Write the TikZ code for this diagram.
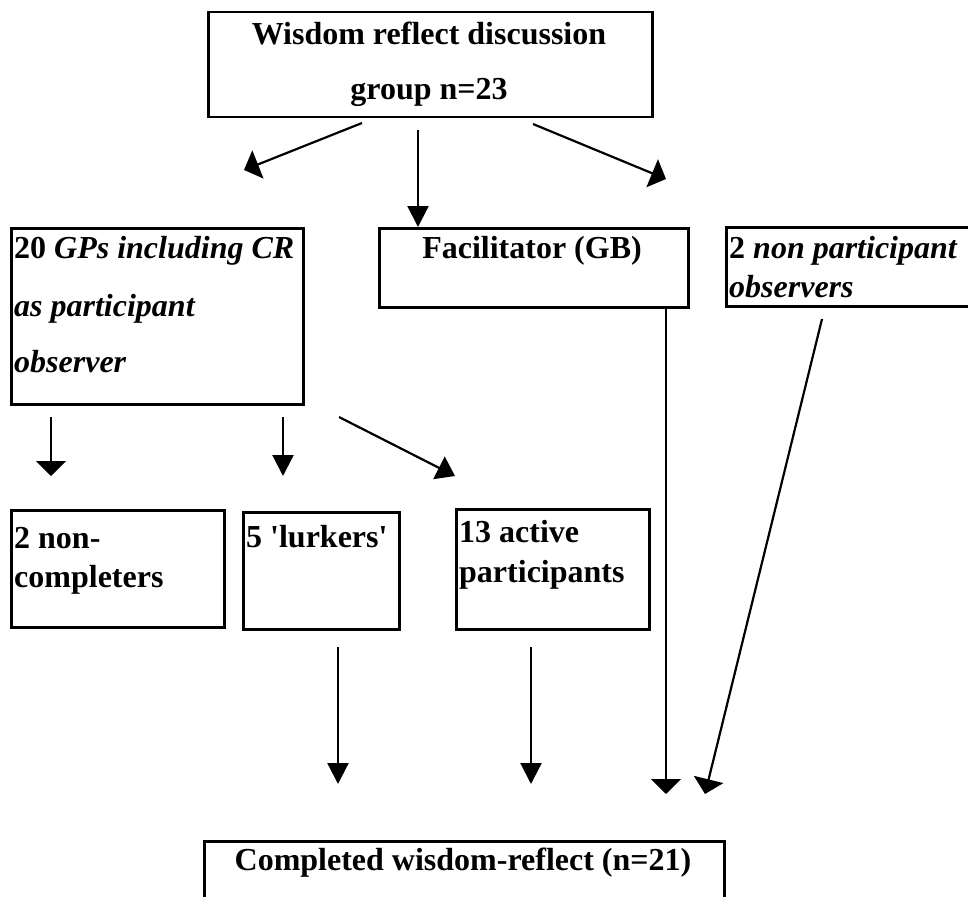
\documentclass[tikz,border=0pt]{standalone}
\usepackage{fontspec}
\setmainfont{Liberation Serif}
\usetikzlibrary{arrows.meta}

\tikzset{
  box/.style={draw=black, line width=2.5pt, fill=none, inner sep=0pt, anchor=north west},
  txt/.style={inner sep=0pt, font=\fontsize{32}{36}\selectfont\bfseries},
  txtl/.style={txt, anchor=base west},
  txtc/.style={txt, anchor=base},
  arrA/.style={line width=2.2pt, -{Triangle[length=21pt,width=21pt]}},
  arrB/.style={line width=2.2pt, -{Triangle[length=15pt,width=30pt]}},
  arrC/.style={line width=2.2pt, -{Triangle[length=18pt,width=25pt]}},
}

\begin{document}
\begin{tikzpicture}[x=1pt, y=-1pt]
\useasboundingbox (0,0) rectangle (968,896);

% boxes
\node[box, minimum width=444pt, minimum height=105pt] (top) at (207,11) {};
\node[box, minimum width=292pt, minimum height=176pt] (gp)  at (10,227) {};
\node[box, minimum width=309pt, minimum height=79pt]  (fac) at (378,227) {};
\node[box, minimum width=260pt, minimum height=79pt]  (obs) at (725,226) {};
\node[box, minimum width=213pt, minimum height=117pt] (nc)  at (10,509) {};
\node[box, minimum width=156pt, minimum height=117pt] (lk)  at (242,511) {};
\node[box, minimum width=193pt, minimum height=120pt] (ac)  at (455,508) {};
\node[box, minimum width=520pt, minimum height=70pt]  (fin) at (203,840) {};

% labels
\node[txtc] (top1) at (429,45)  {Wisdom reflect discussion};
\node[txtc] (top2) at (429,100) {group n=23};
\node[txtl] (gp1) at (14,258) {20 \textit{GPs including CR}};
\node[txtl] (gp2) at (14,316) {\textit{as participant}};
\node[txtl] (gp3) at (14,372) {\textit{observer}};
\node[txtc] (fac1) at (532,258) {Facilitator (GB)};
\node[txtl] (obs1) at (729,258) {2 \textit{non participant}};
\node[txtl] (obs2) at (729,297) {\textit{observers}};
\node[txtl] (nc1) at (14,548) {2 non-};
\node[txtl] (nc2) at (14,587) {completers};
\node[txtl] (lk1) at (246,547) {5 \textquotesingle lurkers\textquotesingle};
\node[txtl] (ac1) at (459,542) {13 active};
\node[txtl] (ac2) at (459,582) {participants};
\node[txtc] (fin1) at (463,870) {Completed wisdom-reflect (n=21)};

% arrow end points
\coordinate (a1s) at (362,123); \coordinate (a1e) at (244,170);
\coordinate (a2s) at (418,130);
\coordinate (a3s) at (533,124); \coordinate (a3e) at (666,179);
\coordinate (b1s) at (51,417);  \coordinate (b1e) at (51,476);
\coordinate (b2s) at (283,417); \coordinate (b2e) at (283,476);
\coordinate (b3s) at (339,417); \coordinate (b3e) at (455,476);
\coordinate (c1s) at (338,647); \coordinate (c1e) at (338,784);
\coordinate (c2s) at (531,647); \coordinate (c2e) at (531,784);
\coordinate (c3)  at (666,0);   \coordinate (c3e) at (666,794);
\coordinate (c4s) at (822,319); \coordinate (c4e) at (705,794);

% connectors
\draw[arrB] (a1s) -- (a1e);
\draw[arrA] (a2s) -- (a2s |- fac.north);
\draw[arrB] (a3s) -- (a3e);
\draw[arrB] (b1s) -- (b1e);
\draw[arrA] (b2s) -- (b2e);
\draw[arrC] (b3s) -- (b3e);
\draw[arrA] (c1s) -- (c1e);
\draw[arrA] (c2s) -- (c2e);
\draw[arrB] (c3 |- fac.south) -- (c3e);
\draw[arrB] (c4s) -- (c4e);
\end{tikzpicture}
\end{document}
